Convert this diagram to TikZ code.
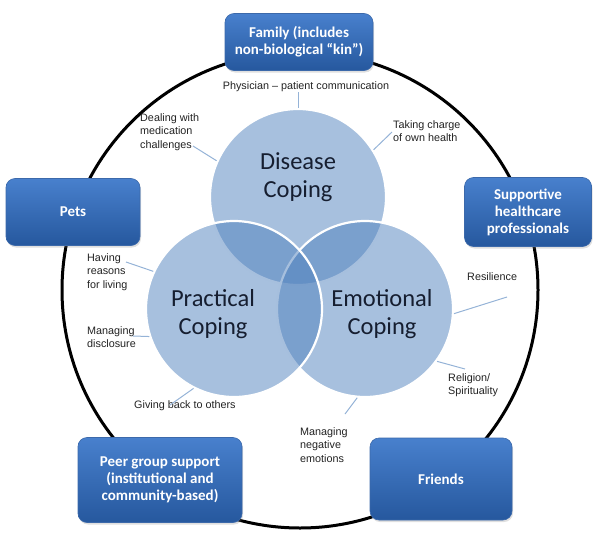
\documentclass[tikz,border=0pt]{standalone}
\usepackage{fontspec}
\setmainfont{Liberation Sans}
\newfontfamily\calibri{Carlito}
\usetikzlibrary{shadows}

\definecolor{vennblue}{RGB}{79,129,189}
\definecolor{titleink}{RGB}{22,30,48}
\definecolor{hubtop}{RGB}{72,128,205}
\definecolor{hubbot}{RGB}{38,88,158}
\definecolor{hubedge}{RGB}{60,105,170}
\definecolor{noteink}{RGB}{34,34,34}
\definecolor{leaderblue}{RGB}{149,179,215}

\begin{document}
\begin{tikzpicture}[x=1pt,y=-1pt,
  venn/.style={circle,minimum size=176pt,inner sep=0pt,fill=vennblue,fill opacity=0.5,draw=white,line width=2.2pt},
  title/.style={font=\calibri\fontsize{24.5}{28}\selectfont,text=titleink,align=center},
  hub/.style={rounded corners=9pt,top color=hubtop,bottom color=hubbot,draw=hubedge,line width=0.6pt,
    text=white,font=\calibri\bfseries\fontsize{15}{17}\selectfont,align=center,inner sep=2pt,
    drop shadow={shadow xshift=1pt,shadow yshift=-2pt,opacity=0.25}},
  note/.style={font=\fontsize{10.8}{13.5}\selectfont,text=noteink,align=left,inner sep=0pt,anchor=north west},
  leader/.style={draw=leaderblue,line width=1pt}]

\useasboundingbox (0,0) rectangle (600,538);

\node[draw,circle,line width=3pt,minimum size=476pt] (ring) at (300,290) {};

\node[venn] (disease) at (298,197) {};
\node[venn] (emotional) at (365,309) {};
\node[venn] (practical) at (234,309) {};

\node[title] (diseasetxt) at (298,177) {Disease\\Coping};
\node[title] (practicaltxt) at (213,314) {Practical\\Coping};
\node[title] (emotionaltxt) at (382,314) {Emotional\\Coping};

\node[note,anchor=center] (physician) at (306,87) {Physician – patient communication};
\node[note] (dealing) at (140,113) {Dealing with\\medication\\challenges};
\node[note] (taking) at (393,120) {Taking charge\\of own health};
\node[note] (having) at (87,253) {Having\\reasons\\for living};
\node[note] (disclosure) at (87,326) {Managing\\disclosure};
\node[note] (giving) at (134,400) {Giving back to others};
\node[note] (negative) at (300,427) {Managing\\negative\\emotions};
\node[note] (religion) at (448,373) {Religion/\\Spirituality};
\node[note] (resilience) at (467,272) {Resilience};

\coordinate (dealing-tip) at (193,146);
\coordinate (taking-tip) at (392,132);
\coordinate (having-tip) at (126,262);
\coordinate (disclosure-tip) at (133,336);
\coordinate (giving-tip) at (170,405);
\coordinate (negative-tip) at (345,414);
\coordinate (religion-tip) at (465,369);
\coordinate (resilience-tip) at (507,297);

\draw[leader] (physician.south -| disease.north) -- (disease.north);
\draw[leader] (dealing-tip) -- (disease.156);
\draw[leader] (taking-tip) -- (disease.32);
\draw[leader] (having-tip) -- (practical.155);
\draw[leader] (disclosure-tip) -- (practical.198);
\draw[leader] (giving-tip) -- (practical.243);
\draw[leader] (negative-tip) -- (emotional.265);
\draw[leader] (religion-tip) -- (emotional.324);
\draw[leader] (resilience-tip) -- (emotional.357);

\node[hub,minimum width=148pt,minimum height=57pt] (family) at (299,42) {Family (includes\\non-biological “kin”)};
\node[hub,minimum width=134pt,minimum height=67pt] (pets) at (73,212) {Pets};
\node[hub,minimum width=127pt,minimum height=69pt] (healthcare) at (528,212) {Supportive\\healthcare\\professionals};
\node[hub,minimum width=164pt,minimum height=85pt] (peers) at (160,480) {Peer group support\\(institutional and\\community-based)};
\node[hub,minimum width=142pt,minimum height=82pt] (friends) at (441,479) {Friends};
\end{tikzpicture}
\end{document}
